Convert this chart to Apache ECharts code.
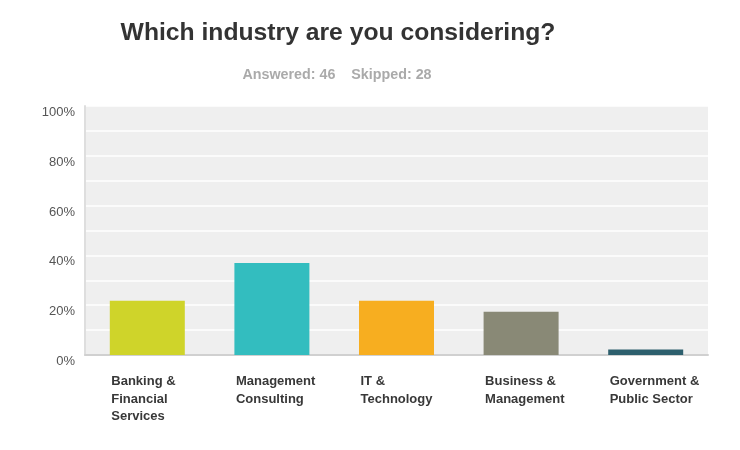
<!DOCTYPE html>
<html>
<head>
<meta charset="utf-8">
<script src="https://cdn.jsdelivr.net/npm/echarts@6/dist/echarts.min.js"></script>
<style>html,body{margin:0;padding:0;background:#fff;}#c{width:740px;height:450px;}</style>
</head>
<body>
<div id="c"></div>
<script>
const categories = ['Banking &\nFinancial\nServices', 'Management\nConsulting', 'IT &\nTechnology', 'Business &\nManagement', 'Government &\nPublic Sector'];
const values = [21.74, 36.96, 21.74, 17.39, 2.17];
const colors = ['#cfd42a', '#33bdbf', '#f7ae20', '#898976', '#2d5f6d'];
const yTicks = [0, 20, 40, 60, 80, 100];

const chart = echarts.init(document.getElementById('c'));
chart.setOption({
  animation: false,
  title: [
    { text: 'Which industry are you considering?', left: 333, top: 16, textAlign: 'center',
      textStyle: { fontFamily: 'Liberation Sans', fontSize: 24.7, fontWeight: 'bold', color: '#333' } },
    { text: 'Answered: 46    Skipped: 28', left: 332, top: 63, textAlign: 'center',
      textStyle: { fontFamily: 'Liberation Sans', fontSize: 14.3, fontWeight: 'bold', color: '#aaa' } }
  ],
  grid: { left: 85, right: 32, top: 106, bottom: 95, show: true, backgroundColor: '#efefef', borderWidth: 0 },
  xAxis: {
    type: 'category', data: categories,
    axisLine: { lineStyle: { color: '#d0d0d0', width: 2 } },
    axisTick: { show: false },
    axisLabel: { align: 'left', padding: [0, 0, 0, -36], margin: 18, lineHeight: 17.5,
      fontFamily: 'Liberation Sans', fontSize: 13, fontWeight: 'bold', color: '#383838' }
  },
  yAxis: {
    type: 'value', min: 0, max: 100, interval: 10,
    axisLine: { show: true, lineStyle: { color: '#dedede', width: 2 } },
    axisTick: { show: false },
    splitLine: { lineStyle: { color: '#ffffff', width: 1.5 } },
    axisLabel: { verticalAlign: 'top', margin: 10, fontFamily: 'Liberation Sans', fontSize: 13, color: '#555',
      formatter: v => yTicks.includes(v) ? v + '%' : '' }
  },
  series: [{
    type: 'bar', barWidth: 75,
    data: values.map((v, i) => ({ value: v, itemStyle: { color: colors[i] } }))
  }]
});
</script>
</body>
</html>
